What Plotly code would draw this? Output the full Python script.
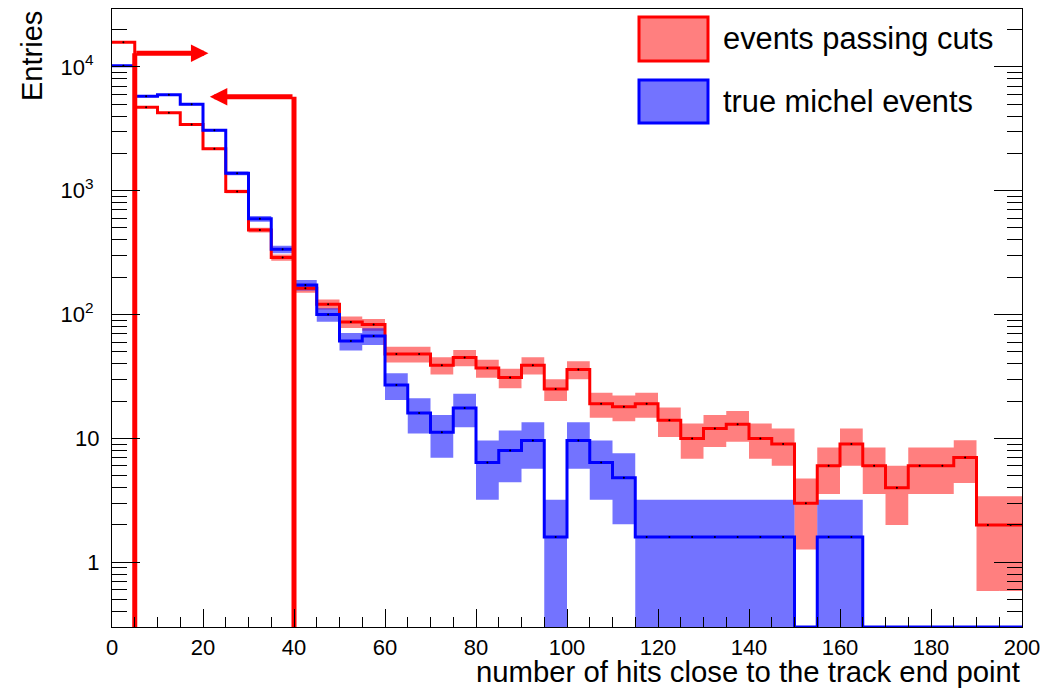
import numpy as np
import plotly.graph_objects as go

# ---------------- data ----------------
bin_width = 5
bin_edges = list(range(0, 200 + bin_width, bin_width))

# events passing cuts (red), 40 bins of width 5 from 0 to 200
passing_cuts = [15800, 4710, 4260, 3430, 2180, 987, 481, 289, 163, 121,
                87, 83, 48, 48, 39, 45, 37, 31, 39, 25,
                36, 19, 18, 19, 14, 10, 12, 13, 10, 9,
                3, 6, 9, 6, 4, 6, 6, 7, 2, 2]

# true michel events (blue), weighted entries
true_michel = [10200, 5780, 5950, 4980, 3070, 1380, 593, 336, 173, 100,
               61, 67, 27, 16, 11.2, 17.6, 6.4, 8.0, 9.6, 1.6,
               9.6, 6.4, 4.8, 1.6, 1.6, 1.6, 1.6, 1.6, 1.6, 1.6,
               0, 1.6, 1.6, 0, 0, 0, 0, 0, 0, 0]
michel_weight = 1.6  # per-entry weight of the michel sample

# cut markers: cut value, arrow tip, arrow height
cut_low, cut_low_arrow_end, cut_low_level = 5, 21.2, 12900
cut_high, cut_high_arrow_end, cut_high_level = 40, 21.5, 5730

x_tick_vals = [0, 20, 40, 60, 80, 100, 120, 140, 160, 180, 200]
y_tick_vals = [1, 10, 100, 1000, 10000]
y_tick_text = ["1", "10", "10<sup>2</sup>\u00a0", "10<sup>3</sup>\u00a0",
               "10<sup>4</sup>\u00a0"]

legend_labels = ["events passing cuts", "true michel events"]

# ---------------- styling / layout ----------------
W, H = 1046, 690
ML, MR, MT, MB = 112, 24, 9, 63
PW, PH = W - ML - MR, H - MT - MB
FONT = "Liberation Sans, Arial, Helvetica, sans-serif"
RED, BLUE = "#ff0000", "#0000ff"
RED_FILL, BLUE_FILL = "rgba(255,0,0,0.5)", "rgba(0,0,255,0.55)"

y_log_range = [-0.523, 4.467]
y_floor = 10 ** y_log_range[0]


def px_x(px):
    return (px - ML) / PW


def px_y(py):
    return (H - MB - py) / PH


def step_xy(values):
    disp = [v if v > 0 else y_floor for v in values]
    return bin_edges, disp + [disp[-1]]


def band_xy(values, errors):
    xs, ys = [], []
    for i, (v, e) in enumerate(zip(values, errors)):
        if v <= 0:
            continue
        lo = max(v - e, y_floor)
        hi = v + e
        x0, x1 = bin_edges[i], bin_edges[i + 1]
        xs += [x0, x1, x1, x0, x0, None]
        ys += [lo, lo, hi, hi, lo, None]
    return xs, ys


red_vals = np.array(passing_cuts, dtype=float)
blue_vals = np.array(true_michel, dtype=float)
red_err = np.sqrt(red_vals)                   # Poisson errors
blue_err = np.sqrt(michel_weight * blue_vals)  # weighted errors

centers = [(bin_edges[i] + bin_edges[i + 1]) / 2 for i in range(len(passing_cuts))]

fig = go.Figure()

for vals, errs, fill in [(red_vals, red_err, RED_FILL), (blue_vals, blue_err, BLUE_FILL)]:
    bx, by = band_xy(vals, errs)
    fig.add_trace(go.Scatter(x=bx, y=by, mode="lines", fill="toself",
                             fillcolor=fill, line=dict(width=0),
                             hoverinfo="skip", showlegend=False))

for vals, color in [(red_vals, RED), (blue_vals, BLUE)]:
    sx, sy = step_xy(list(vals))
    fig.add_trace(go.Scatter(x=sx, y=sy, mode="lines", line_shape="hv",
                             line=dict(color=color, width=3),
                             showlegend=False))
    cx = [c for c, v in zip(centers, vals) if v > 0]
    cy = [v for v in vals if v > 0]
    fig.add_trace(go.Scatter(x=cx, y=cy, mode="markers",
                             marker=dict(color="black", size=2),
                             showlegend=False, hoverinfo="skip"))

# vertical cut lines
for cut, level in [(cut_low, cut_low_level), (cut_high, cut_high_level)]:
    fig.add_trace(go.Scatter(x=[cut, cut], y=[y_floor, level], mode="lines",
                             line=dict(color=RED, width=5),
                             showlegend=False, hoverinfo="skip"))

annotations = []
for cut, end, level in [(cut_low, cut_low_arrow_end, cut_low_level),
                        (cut_high, cut_high_arrow_end, cut_high_level)]:
    annotations.append(dict(
        x=end, y=np.log10(level), ax=cut, ay=np.log10(level),
        xref="x", yref="y", axref="x", ayref="y",
        showarrow=True, arrowhead=2, arrowsize=0.7, arrowwidth=5,
        arrowcolor=RED, text=""))

# legend (drawn manually to match ROOT's large boxes)
shapes = []
legend_rows = [(17, 61, RED, RED_FILL), (80, 123, BLUE, BLUE_FILL)]
for (top, bot, lc, fc), label in zip(legend_rows, legend_labels):
    shapes.append(dict(type="rect", xref="paper", yref="paper",
                       x0=px_x(639), x1=px_x(708), y0=px_y(bot), y1=px_y(top),
                       fillcolor=fc, line=dict(color=lc, width=3)))
    annotations.append(dict(x=px_x(721), y=px_y((top + bot) / 2),
                            xref="paper", yref="paper", xanchor="left",
                            yanchor="middle", showarrow=False, text=label,
                            font=dict(family=FONT, size=30.8, color="black")))

# axis titles
annotations.append(dict(x=1, y=px_y(671), xref="paper", yref="paper",
                        xanchor="right", yanchor="middle", showarrow=False,
                        text="number of hits close to the track end point",
                        font=dict(family=FONT, size=29.3, color="black")))
annotations.append(dict(x=px_x(32), y=1.0, xref="paper", yref="paper",
                        xanchor="center", yanchor="top", showarrow=False,
                        textangle=-90, text="Entries",
                        font=dict(family=FONT, size=29, color="black")))

minor_y = [m * 10 ** d for d in range(-1, 5) for m in range(2, 10)
           if y_floor < m * 10 ** d < 10 ** y_log_range[1]]

fig.update_layout(
    width=W, height=H,
    margin=dict(l=ML, r=MR, t=MT, b=MB, pad=0, autoexpand=False),
    paper_bgcolor="white", plot_bgcolor="white",
    font=dict(family=FONT, size=22, color="black"),
    showlegend=False,
    shapes=shapes,
    annotations=annotations,
    xaxis=dict(range=[0, 200], tickvals=x_tick_vals, ticks="inside",
               ticklen=18, tickwidth=1, tickcolor="black",
               showline=True, linecolor="black", linewidth=1, mirror=True,
               showgrid=False, zeroline=False, automargin=False,
               tickfont=dict(family=FONT, size=22),
               ticklabelstandoff=1,
               minor=dict(dtick=5, ticks="inside", ticklen=10,
                          tickcolor="black", tickwidth=1, showgrid=False)),
    yaxis=dict(type="log", range=y_log_range, tickvals=y_tick_vals,
               ticktext=y_tick_text, ticks="inside", ticklen=28,
               tickwidth=1, tickcolor="black",
               showline=True, linecolor="black", linewidth=1, mirror="ticks",
               showgrid=False, zeroline=False, automargin=False,
               tickfont=dict(family=FONT, size=22),
               ticklabelstandoff=7,
               minor=dict(tickvals=minor_y, ticks="inside", ticklen=15,
                          tickcolor="black", tickwidth=1, showgrid=False)),
)

fig.write_html("out.html",
               config={"displayModeBar": False},
               post_script="document.body.style.margin='0';"
                           "document.body.style.overflow='hidden';")
